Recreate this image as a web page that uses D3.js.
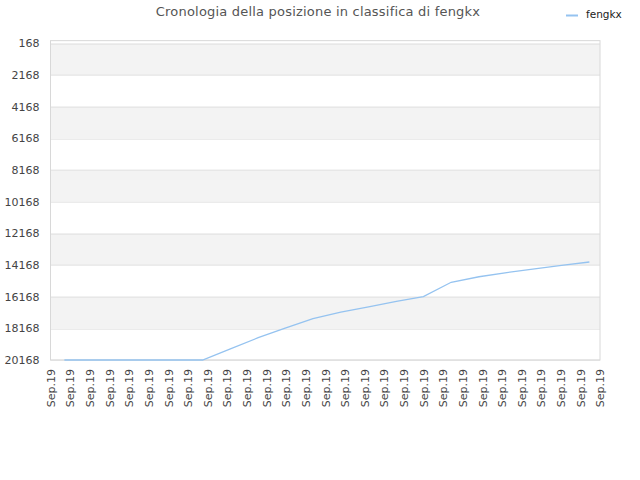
<!DOCTYPE html>
<html>
<head>
<meta charset="utf-8">
<script src="https://cdn.jsdelivr.net/npm/d3@7"></script>
<style>
  body { margin: 0; background: #fff; }
  svg { display: block; font-family: "DejaVu Sans", sans-serif; }
</style>
</head>
<body>
<svg id="chart" width="640" height="480"></svg>
<script>
// Chart data
var title = 'Cronologia della posizione in classifica di fengkx';
var seriesName = 'fengkx';

// Dates of each ranking snapshot (UTC)
var dates = ['2019-09-01T17:00Z', '2019-09-03T03:00Z', '2019-09-04T13:00Z',
             '2019-09-05T22:00Z', '2019-09-07T08:00Z', '2019-09-08T18:00Z',
             '2019-09-10T04:00Z', '2019-09-11T14:00Z', '2019-09-12T23:00Z',
             '2019-09-14T09:00Z', '2019-09-15T19:00Z', '2019-09-17T05:00Z',
             '2019-09-18T15:00Z', '2019-09-20T00:00Z', '2019-09-21T10:00Z',
             '2019-09-22T20:00Z', '2019-09-24T06:00Z', '2019-09-25T16:00Z',
             '2019-09-27T01:00Z', '2019-09-28T11:00Z'];

// Position in the ranking
var ranks = [20168, 20168, 20168, 20168, 20168, 20168, 19470, 18760, 18150,
             17550, 17150, 16820, 16460, 16160, 15260, 14910, 14650, 14420,
             14190, 13980];

// Y tick values
var yTicks = [168, 2168, 4168, 6168, 8168, 10168, 12168, 14168, 16168,
              18168, 20168];

// X axis range (one tick per day)
var xStart = '2019-09-01T00:00Z';
var xEnd = '2019-09-29T00:00Z';

// Layout
var margin = {top: 40.65, right: 40, bottom: 120, left: 50.5},
    width = 640 - margin.left - margin.right,
    height = 480 - margin.top - margin.bottom;

var svg = d3.select('#chart');

var data = dates.map(function(d, i) {
  return {date: new Date(d), rank: ranks[i]};
});

var x = d3.scaleUtc()
    .domain([new Date(xStart), new Date(xEnd)])
    .range([0, width]);

var y = d3.scaleLinear()
    .domain([1, 20168])
    .range([0, height]);

var g = svg.append('g')
    .attr('transform', 'translate(' + margin.left + ',' + margin.top + ')');

// Alternating background bands
var bands = [[1, yTicks[0]]];
for (var i = 0; i < yTicks.length - 1; i++) {
  bands.push([yTicks[i], yTicks[i + 1]]);
}
g.selectAll('rect.band')
  .data(bands)
  .enter()
  .append('rect')
  .attr('class', 'band')
  .attr('x', 0)
  .attr('width', width)
  .attr('y', function(d) { return y(d[0]); })
  .attr('height', function(d) { return y(d[1]) - y(d[0]); })
  .attr('fill', function(d, i) { return i % 2 == 1 ? '#f3f3f3' : '#ffffff'; });

// Grid lines
g.selectAll('line.grid')
  .data(yTicks)
  .enter()
  .append('line')
  .attr('class', 'grid')
  .attr('x1', 0)
  .attr('x2', width)
  .attr('y1', function(d) { return Math.round(y(d)) + 0.5; })
  .attr('y2', function(d) { return Math.round(y(d)) + 0.5; })
  .attr('stroke', '#e0e0e0')
  .attr('stroke-width', 1);

// Plot border
g.append('rect')
  .attr('x', 0)
  .attr('y', 0)
  .attr('width', width)
  .attr('height', height)
  .attr('fill', 'none')
  .attr('stroke', '#d8d8d8')
  .attr('stroke-width', 1);

// Y axis
var yAxis = g.append('g')
    .call(d3.axisLeft(y).tickValues(yTicks).tickSize(0).tickPadding(11)
          .tickFormat(d3.format('d')));
yAxis.select('.domain').remove();
yAxis.selectAll('text')
     .attr('fill', '#444')
     .style('font-size', '11px')
     .style('font-family', '"DejaVu Sans", sans-serif');

// X axis
var xAxis = g.append('g')
    .attr('transform', 'translate(0,' + height + ')')
    .call(d3.axisBottom(x).ticks(d3.utcDay.every(1)).tickSize(0)
          .tickFormat(d3.utcFormat('%b.%y')));
xAxis.select('.domain').remove();
xAxis.selectAll('text')
     .attr('fill', '#444')
     .style('font-size', '11px')
     .style('font-family', '"DejaVu Sans", sans-serif')
     .style('text-anchor', 'end')
     .attr('dx', '-9')
     .attr('dy', '0.35em')
     .attr('y', 0)
     .attr('transform', 'rotate(-90)');

// Line
var line = d3.line()
    .x(function(d) { return x(d.date); })
    .y(function(d) { return y(d.rank); });

g.append('path')
  .datum(data)
  .attr('fill', 'none')
  .attr('stroke', '#95c3f0')
  .attr('stroke-width', 1.3)
  .attr('d', line);

// Title
svg.append('text')
   .attr('x', 318)
   .attr('y', 16)
   .attr('text-anchor', 'middle')
   .attr('fill', '#555')
   .style('font-size', '13px')
   .style('letter-spacing', '0.2px')
   .text(title);

// Legend
svg.append('line')
   .attr('x1', 566)
   .attr('x2', 578)
   .attr('y1', 15.5)
   .attr('y2', 15.5)
   .attr('stroke', '#95c3f0')
   .attr('stroke-width', 2);
svg.append('text')
   .attr('x', 586)
   .attr('y', 18)
   .attr('fill', '#222')
   .style('font-size', '10.5px')
   .text(seriesName);
</script>
</body>
</html>
